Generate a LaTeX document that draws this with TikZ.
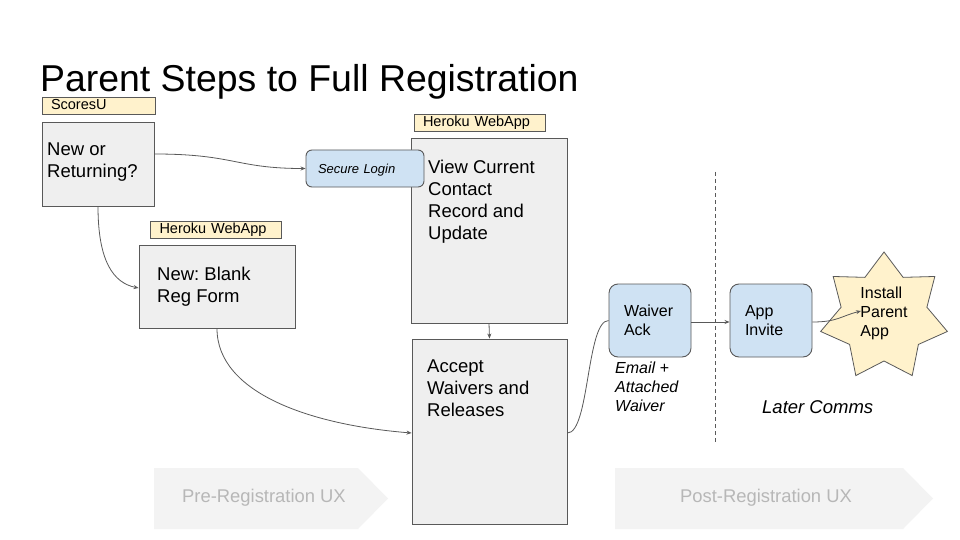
\documentclass[tikz,border=0pt]{standalone}
\usepackage{fontspec}
\setmainfont{Liberation Sans}
\usetikzlibrary{arrows.meta,calc}
\definecolor{boxfill}{HTML}{EFEFEF}
\definecolor{edgegray}{HTML}{595959}
\definecolor{labfill}{HTML}{FFF2CC}
\definecolor{bluefill}{HTML}{CFE2F3}
\definecolor{chevfill}{HTML}{F3F3F3}
\definecolor{chevtext}{HTML}{B7B7B7}
\frenchspacing
\begin{document}
\begin{tikzpicture}[x=1pt,y=-1pt,
  stepbox/.style={draw=edgegray,fill=boxfill,line width=0.9pt,inner sep=0pt},
  boxtext/.style={anchor=north west,inner sep=0pt,align=left,font=\fontsize{18.5}{22}\selectfont},
  lab/.style={draw=edgegray,fill=labfill,line width=0.8pt,inner xsep=9pt,inner ysep=0pt,
    minimum height=17pt,align=left,font=\fontsize{14.5}{16}\selectfont,text height=10pt,text depth=2pt},
  bluebox/.style={draw=edgegray,fill=bluefill,line width=0.9pt,rounded corners=9pt,inner ysep=0pt},
  conn/.style={draw=edgegray,line width=0.8pt},
  arr/.style={conn,-{Stealth[length=5pt,width=4pt]}},
  chevlabel/.style={text=chevtext,inner sep=0pt,font=\fontsize{18.4}{20}\selectfont}
]
\useasboundingbox[fill=white] (0,0) rectangle (960,540);

% title
\node[anchor=base west,inner sep=0pt,text depth=0pt,font=\fontsize{37.4}{44}\selectfont] (title) at (40,92) {Parent Steps to Full Registration};

% chevrons
\fill[chevfill] (154,468) -- (358,468) -- (388,498.5) -- (358,529) -- (154,529) -- cycle;
\fill[chevfill] (615,468) -- (903,468) -- (933,498.5) -- (903,529) -- (615,529) -- cycle;
\node[chevlabel] (pre) at (264,498) {Pre-Registration UX};
\node[chevlabel] (post) at (766,498) {Post-Registration UX};

% labels
\node[lab,text width=95pt] (lscores) at (98.5,105.5) {ScoresU};
\node[lab,text width=113pt] (lheroku2) at (216,229.5) {Heroku WebApp};
\node[lab,text width=113pt] (lheroku3) at (479.5,122.5) {Heroku WebApp};

% main boxes
\node[stepbox,minimum width=112pt,minimum height=84pt] (b1) at (98,164) {};
\node[stepbox,minimum width=156pt,minimum height=83pt] (b2) at (217,286.5) {};
\node[stepbox,minimum width=156pt,minimum height=185pt] (b3) at (489,230.5) {};
\node[stepbox,minimum width=155pt,minimum height=185pt] (b4) at (489.5,431.5) {};

\node[boxtext] (t1) at (47,143) {New or\\Returning?};
\node[boxtext] (t2) at (157,267) {New: Blank\\Reg Form};
\node[boxtext] (t3) at (428,160) {View Current\\Contact\\Record and\\Update};
\node[boxtext] (t4) at (427,360) {Accept\\Waivers and\\Releases};

% secure login
\node[bluebox,rounded corners=6pt,minimum height=37pt,inner xsep=12pt,text width=94pt,align=left,
  text height=11pt,text depth=1.4pt,
  font=\fontsize{13}{15}\itshape] (sl) at (365,168.5) {Secure Login};

% waiver ack / app invite
\node[bluebox,minimum height=73pt,inner xsep=15pt,text width=52pt,align=left,
  font=\fontsize{16}{19}\selectfont] (wa) at (650,320.5) {Waiver\\Ack};
\node[bluebox,minimum height=73pt,inner xsep=15pt,text width=52pt,align=left,
  font=\fontsize{16}{19}\selectfont] (ai) at (771,320.5) {App\\Invite};

% star
\draw[shift={(884,317)},draw=edgegray,fill=labfill,line width=0.8pt]
  (90:65pt) -- (115.71:44pt) -- (141.43:65pt) -- (167.14:44pt) -- (192.86:65pt) -- (218.57:44pt)
  -- (244.29:65pt) -- (270:44pt) -- (295.71:65pt) -- (321.43:44pt) -- (347.14:65pt) -- (12.86:44pt)
  -- (38.57:65pt) -- (64.29:44pt) -- cycle;
\node[inner sep=0pt,align=left,font=\fontsize{16}{19}\selectfont] (star) at (884,313) {Install\\Parent\\App};
\coordinate (sti) at (861,311);

% captions
\node[anchor=north west,inner sep=0pt,align=left,font=\fontsize{16}{19}\itshape] (email) at (615,362) {Email +\\Attached\\Waiver};
\node[anchor=base west,inner sep=0pt,font=\fontsize{18.5}{22}\itshape] (later) at (762,413) {Later Comms};

% dashed divider
\coordinate (d1) at (715,172);
\coordinate (d2) at (715,442);
\draw[edgegray,line width=0.8pt,dash pattern=on 4pt off 3pt] (d1) -- (d2);

% connectors
\draw[arr] ([yshift=10pt]b1.east) .. controls +(80,0) and +(-70,0) .. (sl.west);
\draw[arr] (b1.south) .. controls +(0,55) and +(-25,-5) .. ([yshift=-1.5pt]b2.west);
\draw[arr] (b3.south) -- (b4.north);
\draw[arr] (b2.south) .. controls +(0,65) and +(-100,-8) .. ([yshift=-1.5pt]b4.west);
\draw[conn] ([yshift=-1.5pt]b4.east) .. controls +(22,0) and +(-22,0) .. (wa.west);
\draw[arr] ([yshift=-1.5pt]wa.east) -- ([yshift=-1.5pt]ai.west);
\draw[arr] ([yshift=-1.5pt]ai.east) .. controls +(25,0) and +(-20,5) .. (sti);
\end{tikzpicture}
\end{document}
